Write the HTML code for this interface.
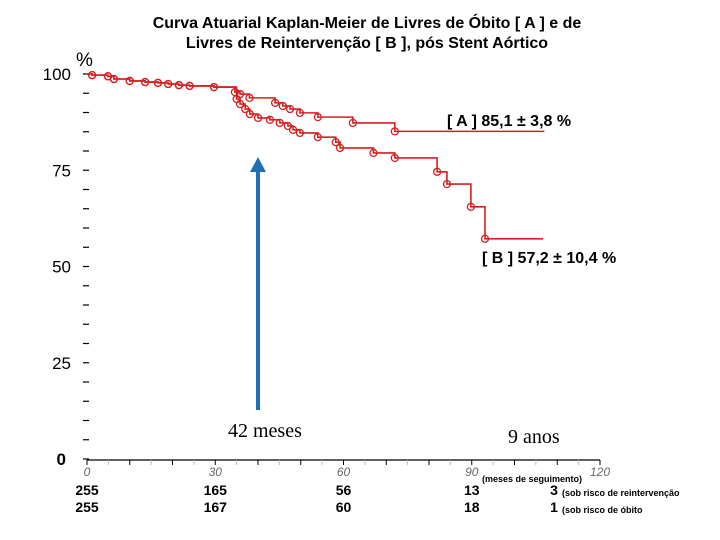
<!DOCTYPE html>
<html><head><meta charset="utf-8"><style>
body{margin:0;background:#fff;}
svg{display:block;font-family:"Liberation Sans",sans-serif;}
</style></head><body>
<svg id="chart" width="720" height="540" viewBox="0 0 720 540" xmlns="http://www.w3.org/2000/svg">
<g font-weight="bold" font-size="16" text-anchor="middle" fill="#000">
<text x="367" y="28">Curva Atuarial Kaplan-Meier de Livres de Óbito [ A ] e de</text>
<text x="367" y="48">Livres de Reintervenção [ B ], pós Stent Aórtico</text>
</g>
<text x="76" y="66" font-size="19">%</text>
<g id="yaxis"></g>
<g id="xaxis"></g>
<g id="series"></g>
<g>
<line x1="258" y1="410" x2="258" y2="170" stroke="#1f6fb5" stroke-width="4"/>
<polygon points="250,172 266,172 258,157" fill="#1f6fb5"/>
</g>
<text x="228" y="437" font-family="Liberation Serif,serif" font-size="20">42 meses</text>
<text x="508" y="443" font-family="Liberation Serif,serif" font-size="20">9 anos</text>
<text x="447" y="126" font-weight="bold" font-size="16">[ A ] 85,1 ± 3,8 %</text>
<text x="482" y="263" font-weight="bold" font-size="16">[ B ] 57,2 ± 10,4 %</text>
<g font-weight="bold" font-size="14" text-anchor="middle" id="risk"></g>
<text x="482" y="482" font-size="9" font-weight="bold">(meses de seguimento)</text>
<text x="562" y="496" font-size="9" font-weight="bold">(sob risco de reintervenção</text>
<text x="562" y="513" font-size="9" font-weight="bold">(sob risco de óbito</text>
</svg>
<script>
const yTicks=[0,25,50,75,100];
const xTicks=[0,30,60,90,120];
const seriesA_t=[0,1.2,4.9,6.3,10,13.6,16.6,19,21.5,24,29.7,34.6,35.8,38,44,45.8,47.5,49.8,54,62.2,72];
const seriesA_s=[100,99.7,99.4,98.7,98.2,97.9,97.7,97.4,97.1,96.9,96.6,95.3,94.8,93.8,92.5,91.7,90.9,89.9,88.8,87.3,85.1];
const seriesA_end=107;
const seriesB_t=[0,1.2,4.9,6.3,10,13.6,16.6,19,21.5,24,29.7,35,35.8,37,38.1,40,42.8,45.1,47,48.2,49.8,54,58.2,59.2,67,72,81.9,84.2,89.8,93.1];
const seriesB_s=[100,99.7,99.4,98.7,98.2,97.9,97.7,97.4,97.1,96.9,96.6,93.5,92.2,90.9,89.6,88.6,88.1,87.3,86.5,85.5,84.7,83.6,82.3,80.8,79.5,78.2,74.6,71.4,65.5,57.2];
const seriesB_end=106.7;
const riskTimes=[0,30,60,90,120];
const riskReint=[255,165,56,13,3];
const riskDeath=[255,167,60,18,1];
const NS="http://www.w3.org/2000/svg";
const X=t=>87+t*(513/120);
const Y=s=>459-s*3.85;
function mk(tag,attrs,parent){const e=document.createElementNS(NS,tag);for(const k in attrs)e.setAttribute(k,attrs[k]);parent.appendChild(e);return e;}
const ya=document.getElementById('yaxis');
for(let v=0;v<=100;v+=5){const l=mk('line',{x1:83,x2:89,y1:Y(v),y2:Y(v),stroke:'#000','stroke-width':1.2},ya);

}
yTicks.forEach(v=>{const t=mk('text',{x:v===0?66:71,y:Y(v)+6,'text-anchor':'end','font-size':17,'font-weight':v===0?'bold':'normal'},ya);t.textContent=v;

});
const xa=document.getElementById('xaxis');
const ax=mk('line',{x1:X(0),x2:X(120),y1:460,y2:460,stroke:'#000','stroke-width':1.2},xa);


for(let v=0;v<=120;v+=5){const l=mk('line',{x1:X(v),x2:X(v),y1:460,y2:465,stroke:v%10===0?'#000':'#bbb','stroke-width':1},xa);

}
xTicks.forEach(v=>{const t=mk('text',{x:X(v),y:476,'text-anchor':'middle','font-size':12,'font-style':'italic',fill:'#666'},xa);t.textContent=v;

});
const sg=document.getElementById('series');
function drawKM(ts,ss,end,name){let d=`M${X(ts[0])},${Y(ss[0])}`;
for(let i=1;i<ts.length;i++){d+=`H${X(ts[i])}V${Y(ss[i])}`;}
d+=`H${X(end)}`;
const p=mk('path',{d:d,fill:'none',stroke:'#d42020','stroke-width':1.6},sg);


for(let i=1;i<ts.length;i++){const c=mk('circle',{cx:X(ts[i]),cy:Y(ss[i]),r:3.5,fill:'none',stroke:'#d42020','stroke-width':1.3},sg);

}}
drawKM(seriesA_t,seriesA_s,seriesA_end,'series-a');
drawKM(seriesB_t,seriesB_s,seriesB_end,'series-b');
const rg=document.getElementById('risk');
riskTimes.forEach((t,i)=>{const a=mk('text',{x:X(t)-(i===4?46:0),y:495},rg);a.textContent=riskReint[i];


const b=mk('text',{x:X(t)-(i===4?46:0),y:512},rg);b.textContent=riskDeath[i];

});
</script>
</body></html>
